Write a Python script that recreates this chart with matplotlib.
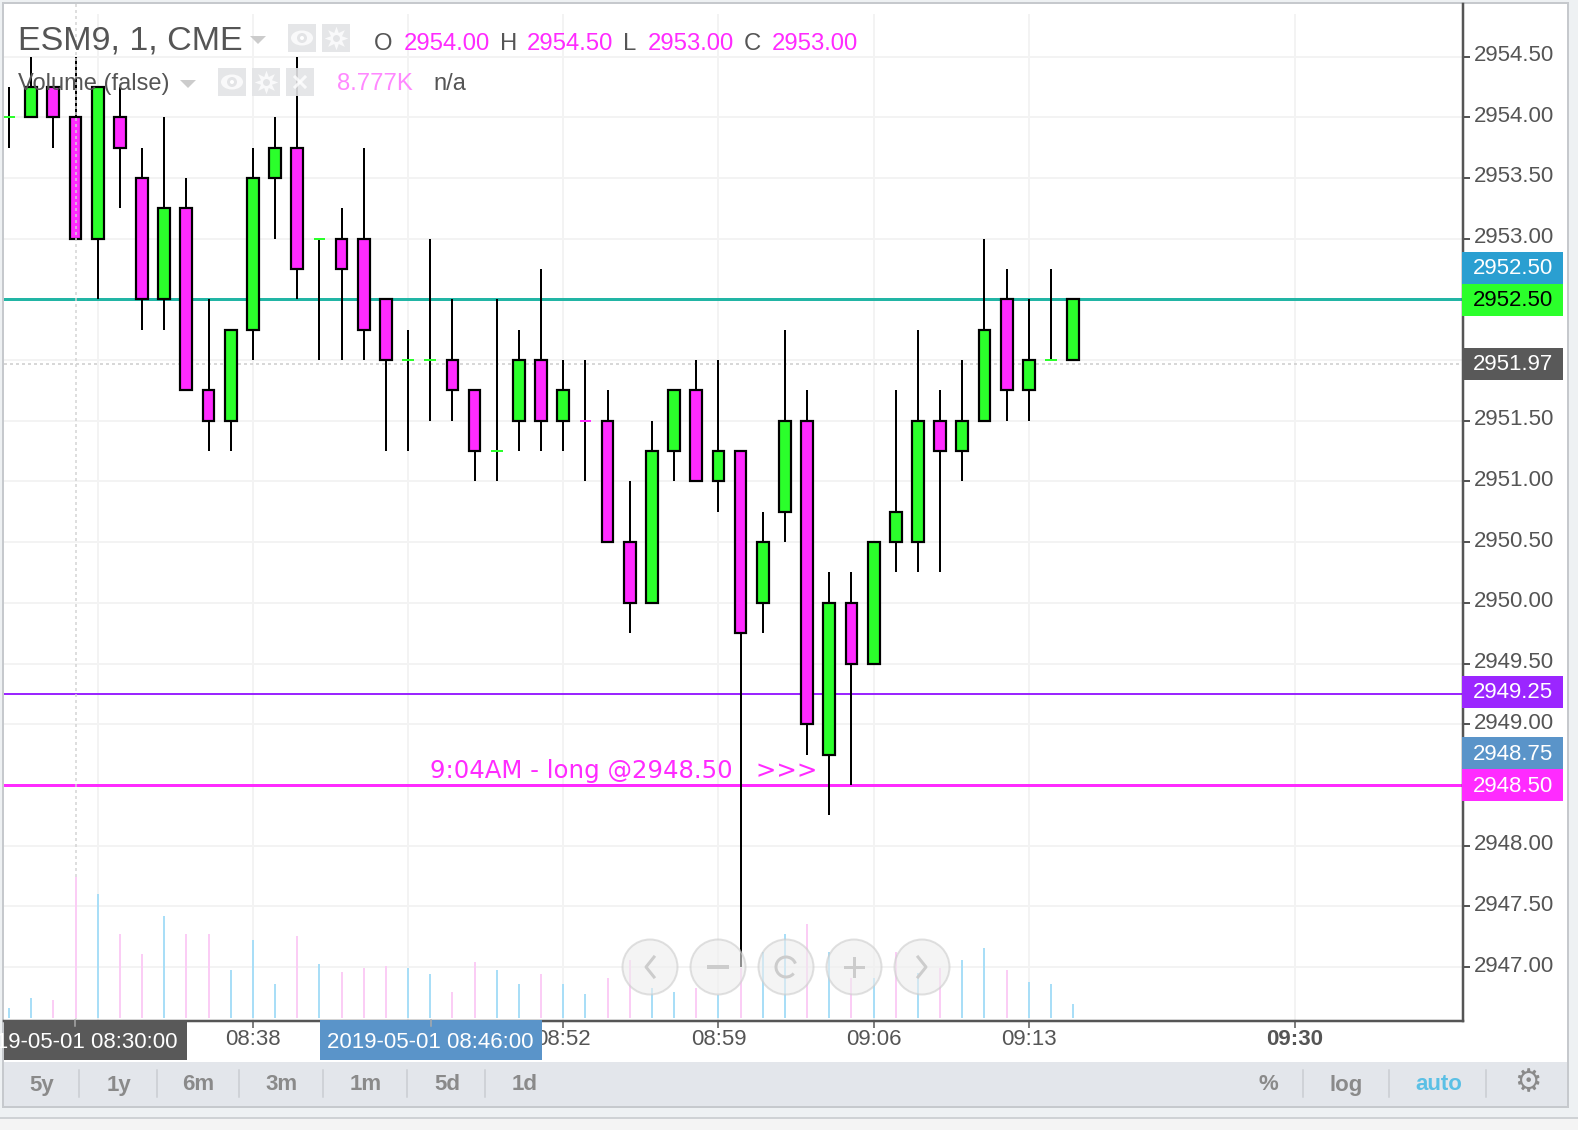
import matplotlib
matplotlib.use('Agg')
import matplotlib.pyplot as plt
from matplotlib.patches import Rectangle, Circle, Arc, Ellipse
from matplotlib.transforms import ScaledTranslation

plt.rcParams['font.family'] = ['Liberation Sans', 'DejaVu Sans']

opens = [2954, 2954, 2954.25, 2954, 2953, 2954, 2953.5, 2952.5, 2953.25, 2951.75,
         2951.5, 2952.25, 2953.5, 2953.75, 2953, 2953, 2953, 2952.5, 2952, 2952,
         2952, 2951.75, 2951.25, 2951.5, 2952, 2951.5, 2951.5, 2951.5, 2950.5, 2950,
         2951.25, 2951.75, 2951, 2951.25, 2950, 2950.75, 2951.5, 2948.75, 2950, 2949.5,
         2950.5, 2950.5, 2951.5, 2951.25, 2951.5, 2952.5, 2951.75, 2952, 2952]
highs = [2954.25, 2954.5, 2954.25, 2954.5, 2954.25, 2954.25, 2953.75, 2954, 2953.5, 2952.5,
         2952.25, 2953.75, 2954, 2954.5, 2953, 2953.25, 2953.75, 2952.5, 2952.25, 2953,
         2952.5, 2951.75, 2952.5, 2952.25, 2952.75, 2952, 2952, 2951.75, 2951, 2951.5,
         2951.75, 2952, 2952, 2951.25, 2950.75, 2952.25, 2951.75, 2950.25, 2950.25, 2950.5,
         2951.75, 2952.25, 2951.75, 2952, 2953, 2952.75, 2952.5, 2952.75, 2952.5]
lows = [2953.75, 2954, 2953.75, 2953, 2952.5, 2953.25, 2952.25, 2952.25, 2951.75, 2951.25,
        2951.25, 2952, 2953, 2952.5, 2952, 2952, 2952, 2951.25, 2951.25, 2951.5,
        2951.5, 2951, 2951, 2951.25, 2951.25, 2951.25, 2951, 2950.5, 2949.75, 2950,
        2951, 2951, 2950.75, 2947, 2949.75, 2950.5, 2948.75, 2948.25, 2948.5, 2949.5,
        2950.25, 2950.25, 2950.25, 2951, 2951.5, 2951.5, 2951.5, 2952, 2952]
closes = [2954, 2954.25, 2954, 2953, 2954.25, 2953.75, 2952.5, 2953.25, 2951.75, 2951.5,
          2952.25, 2953.5, 2953.75, 2952.75, 2953, 2952.75, 2952.25, 2952, 2952, 2952,
          2951.75, 2951.25, 2951.25, 2952, 2951.5, 2951.75, 2951.5, 2950.5, 2950, 2951.25,
          2951.75, 2951, 2951.25, 2949.75, 2950.5, 2951.5, 2949, 2950, 2949.5, 2950.5,
          2950.75, 2951.5, 2951.25, 2951.5, 2952.25, 2951.75, 2952, 2952, 2952.5]
doji_up = [True] * 49
doji_up[26] = False

# volume in thousands (8.777K is the tallest)
volumes = [0.62, 1.25, 1.12, 8.777, 7.72, 5.23, 3.98, 6.35, 5.23, 5.23,
           2.99, 4.86, 2.12, 5.10, 3.36, 2.86, 3.11, 3.24, 3.11, 2.74,
           1.62, 3.49, 2.99, 2.12, 2.74, 2.12, 1.49, 2.49, 3.61, 1.87,
           1.62, 1.87, 1.43, 3.11, 4.11, 5.23, 5.85, 4.11, 2.49, 2.49,
           4.11, 2.80, 3.11, 3.61, 4.36, 2.99, 2.24, 2.12, 0.87]
volume_up = [1, 1, 0, 0, 1, 0, 0, 1, 0, 0,
             1, 1, 1, 0, 1, 0, 0, 0, 1, 1,
             0, 0, 1, 1, 0, 1, 1, 0, 0, 1,
             1, 0, 1, 0, 1, 1, 0, 1, 0, 1,
             0, 1, 0, 1, 1, 0, 1, 1, 1]

price_ticks = [2954.5, 2954, 2953.5, 2953, 2951.5, 2951, 2950.5, 2950, 2949.5, 2949, 2948, 2947.5, 2947]
time_positions = [11, 25, 32, 39, 46, 58]
time_labels = ['08:38', '08:52', '08:59', '09:06', '09:13', '09:30']
grid_positions = [4, 11, 18, 25, 32, 39, 46, 58]
grid_prices = [2954.5, 2954, 2953.5, 2953, 2952.5, 2952, 2951.5, 2951, 2950.5, 2950, 2949.5, 2949, 2948.5, 2948, 2947.5, 2947]
range_buttons = ['5y', '1y', '6m', '3m', '1m', '5d', '1d']

GREEN = '#2bff2b'
MAGENTA = '#ff2bff'
DARK = '#555555'
W, H = 1578, 1130
LEFT, RIGHT, TOP, BOTTOM = 4, 1463, 4, 1021
BAR_STEP = 22.17
PX_PER_POINT = 121.4
PX = 0.72  # 1 pixel in points at dpi 100


def price_of(y_px):
    return 2954.5 - (y_px - 56.5) / PX_PER_POINT


def idx_of(x_px):
    return (x_px - 9) / BAR_STEP


fig = plt.figure(figsize=(W / 100, H / 100), dpi=100, facecolor='#f4f4f4')
pos = [LEFT / W, 1 - BOTTOM / H, (RIGHT - LEFT) / W, (BOTTOM - TOP) / H]

# panels behind the chart
bg = fig.add_axes([0, 0, 1, 1], zorder=0)
bg.set_xlim(0, W)
bg.set_ylim(H, 0)
bg.axis('off')
bg.add_patch(Rectangle((0, 0), W, 1118, fc='#eef1f3', ec='none'))
bg.add_patch(Rectangle((3, 3), 1565, 1104, fc='white', ec='#c6c9cd', lw=2 * PX))
bg.add_patch(Rectangle((4, 1062), 1563, 44, fc='#e3e6eb', ec='none'))
bg.plot([0, W], [1118, 1118], color='#cfd2d5', lw=2 * PX)

# price panel
ax = fig.add_axes(pos, zorder=1, facecolor='none')
ax.set_xlim(idx_of(LEFT), idx_of(RIGHT))
ax.set_ylim(price_of(BOTTOM), price_of(TOP))
ax.set_yticks(price_ticks)
ax.set_yticklabels([f'{p:.2f}' for p in price_ticks])
ax.yaxis.tick_right()
ax.tick_params(axis='y', length=5, width=2 * PX, color=DARK, labelcolor=DARK, labelsize=16, pad=2.5)
ax.set_xticks(time_positions)
ax.set_xticklabels(time_labels)
ax.tick_params(axis='x', length=5, width=1.5 * PX, color=DARK, labelcolor=DARK, labelsize=16, pad=3)
for lab in ax.get_xticklabels():
    lab.set_transform(lab.get_transform() + ScaledTranslation(0, 3 / 100, fig.dpi_scale_trans))
    if lab.get_text() == '09:30':
        lab.set_fontweight('bold')
for lab in ax.get_yticklabels():
    lab.set_transform(lab.get_transform() + ScaledTranslation(0, 3.5 / 100, fig.dpi_scale_trans))
for s in ['top', 'left']:
    ax.spines[s].set_visible(False)
for s in ['right', 'bottom']:
    ax.spines[s].set_color(DARK)
    ax.spines[s].set_linewidth(2.5 * PX)

ax.hlines(grid_prices, idx_of(LEFT), idx_of(RIGHT), color='#f3f3f3', lw=2 * PX, zorder=1)
ax.vlines(grid_positions, price_of(BOTTOM), price_of(14), color='#f3f3f3', lw=2 * PX, zorder=1)

ax.axhline(2951.97, color='#cccccc', lw=1.5 * PX, ls=(0, (2, 2)), zorder=2)
ax.axhline(2952.5, color='#22b5a5', lw=3 * PX, zorder=2)
ax.axhline(2949.25, color='#9b26ff', lw=2 * PX, zorder=2)
ax.axhline(2948.5, color=MAGENTA, lw=3 * PX, zorder=2)

# candles
for i in range(len(opens)):
    o, h, l, c = opens[i], highs[i], lows[i], closes[i]
    if h > l:
        ax.vlines(i, l, h, color='black', lw=2 * PX, zorder=3)
    if o == c:
        ax.hlines(o, i - 0.26, i + 0.26, color=GREEN if doji_up[i] else MAGENTA, lw=2 * PX, zorder=4)
    else:
        ax.bar(i, abs(c - o), bottom=min(o, c), width=0.53, color=GREEN if c > o else MAGENTA,
               edgecolor='black', linewidth=2.2 * PX, zorder=4)

ax.annotate('9:04AM - long @2948.50   >>>', xy=(19, 2948.5), xytext=(0, 2), textcoords='offset pixels',
            color=MAGENTA, fontsize=17.6, family='DejaVu Sans', va='bottom', ha='left', zorder=5)

# volume panel shares the x axis, tallest bar is 141 px above a baseline 3 px over the axis
vol = fig.add_axes(pos, zorder=2, facecolor='none', sharex=ax)
px_per_k = 141 / 8.777
vol.set_ylim(-3 / px_per_k, (BOTTOM - TOP - 3) / px_per_k)
vol.axis('off')
vol.vlines(range(len(volumes)), 0, volumes,
           colors=['#a9def7' if u else '#fbcdf5' for u in volume_up], lw=2 * PX)

# crosshair
ax.axvline(3, color='#d4d4d4', lw=1.5 * PX, ls=(0, (2, 2)), zorder=6)

# overlay: legend, badges, buttons
ov = fig.add_axes([0, 0, 1, 1], zorder=3, facecolor='none')
ov.set_xlim(0, W)
ov.set_ylim(H, 0)
ov.axis('off')

ov.text(18.5, 41, 'ESM9, 1, CME', fontsize=24.5, color=DARK, va='center')
ov.text(374, 44, 'O', fontsize=17.2, color=DARK, va='center')
ov.text(403.5, 44, '2954.00', fontsize=17.2, color=MAGENTA, va='center')
ov.text(500, 44, 'H', fontsize=17.2, color=DARK, va='center')
ov.text(527, 44, '2954.50', fontsize=17.2, color=MAGENTA, va='center')
ov.text(623, 44, 'L', fontsize=17.2, color=DARK, va='center')
ov.text(648, 44, '2953.00', fontsize=17.2, color=MAGENTA, va='center')
ov.text(744, 44, 'C', fontsize=17.2, color=DARK, va='center')
ov.text(772, 44, '2953.00', fontsize=17.2, color=MAGENTA, va='center')
ov.text(18.5, 84, 'Volume (false)', fontsize=17, color=DARK, va='center')
ov.text(337.5, 84, '8.777K', fontsize=17.2, color='#ff88ff', va='center')
ov.text(433, 84, 'n/a', fontsize=17, color=DARK, va='center')

ov.fill([250, 266, 258], [36, 36, 44], color='#cccccc', lw=0)
ov.fill([180, 196, 188], [80, 80, 88], color='#cccccc', lw=0)
for bx, by, kind in [(288, 24, 'eye'), (322, 24, 'gear'), (218, 68, 'eye'), (252, 68, 'gear'), (286, 68, 'x')]:
    ov.add_patch(Rectangle((bx, by), 28, 28, fc='#e3e4e6', ec='none', alpha=0.9))
    cx, cy = bx + 14, by + 14
    if kind == 'eye':
        ov.add_patch(Ellipse((cx, cy), 22, 15, fc='white', ec='none', alpha=0.8))
        ov.add_patch(Circle((cx, cy), 5, fc='#e3e4e6', ec='none'))
        ov.add_patch(Circle((cx, cy), 2, fc='white', ec='none'))
    elif kind == 'gear':
        ov.plot([cx], [cy], marker=(8, 1, 0), ms=17, color='white', alpha=0.8, mew=0)
        ov.plot([cx], [cy], marker='o', ms=5, color='#e3e4e6', mew=0)
    else:
        ov.plot([cx - 5, cx + 5], [cy - 5, cy + 5], color='white', lw=3 * PX, alpha=0.8)
        ov.plot([cx - 5, cx + 5], [cy + 5, cy - 5], color='white', lw=3 * PX, alpha=0.8)

# price badges
for y0, col, txt, tc in [(252, '#2a9fd1', '2952.50', 'white'), (284, GREEN, '2952.50', 'black'),
                         (348, '#595959', '2951.97', 'white'), (676, '#9b26ff', '2949.25', 'white'),
                         (737, '#5a94c9', '2948.75', 'white'), (769, MAGENTA, '2948.50', 'white')]:
    ov.add_patch(Rectangle((1462, y0), 101, 32, fc=col, ec='none'))
    ov.text(1473, y0 + 17, txt, color=tc, fontsize=16, va='center')

# crosshair date badges
for x0, x1, cx, col, txt in [(4, 187, 75.5, '#595959', '2019-05-01 08:30:00'),
                             (320, 542, 431, '#5a94c9', '2019-05-01 08:46:00')]:
    box = Rectangle((x0, 1020), x1 - x0, 40, fc=col, ec='none')
    ov.add_patch(box)
    t = ov.text(cx - 1, 1042, txt, color='white', fontsize=16, ha='center', va='center')
    t.set_clip_path(box)
    ov.plot([cx, cx], [1020, 1026], color='#aaaaaa', lw=1.5 * PX)

# nav buttons
for cx in [650, 718, 786, 854, 922]:
    ov.add_patch(Circle((cx, 967), 27.5, fc='#eeeeee', ec='#cccccc', lw=2 * PX, alpha=0.6))
ov.plot([654, 646, 654], [957, 967, 977], color='#cccccc', lw=3 * PX)
ov.plot([709, 727], [967, 967], color='#cccccc', lw=4 * PX)
ov.add_patch(Arc((786, 967), 20, 20, theta1=40, theta2=340, color='#cccccc', lw=3 * PX))
ov.plot([845, 863], [967, 967], color='#cccccc', lw=3 * PX)
ov.plot([854, 854], [958, 976], color='#cccccc', lw=3 * PX)
ov.plot([918, 926, 918], [957, 967, 977], color='#cccccc', lw=3 * PX)

# toolbar
for name, cx in zip(range_buttons, [42, 119, 198.5, 282, 366, 447, 525]):
    ov.text(cx, 1085, name, fontsize=16, fontweight='bold', color='#8a8a8a', ha='center', va='center')
for sx in [79, 157, 239, 323, 407, 485, 1303, 1389, 1486]:
    ov.plot([sx, sx], [1070, 1097], color='#c9ccd1', lw=1.5 * PX)
ov.text(1268.5, 1085, '%', fontsize=16, fontweight='bold', color='#8a8a8a', ha='center', va='center')
ov.text(1346, 1085, 'log', fontsize=16, fontweight='bold', color='#8a8a8a', ha='center', va='center')
ov.text(1438.5, 1085, 'auto', fontsize=16, fontweight='bold', color='#5bc0e5', ha='center', va='center')
ov.text(1528, 1083, '\u2699', fontsize=22, color='#8a8a8a', ha='center', va='center', family='DejaVu Sans')

fig.savefig('out.png', dpi=100)
